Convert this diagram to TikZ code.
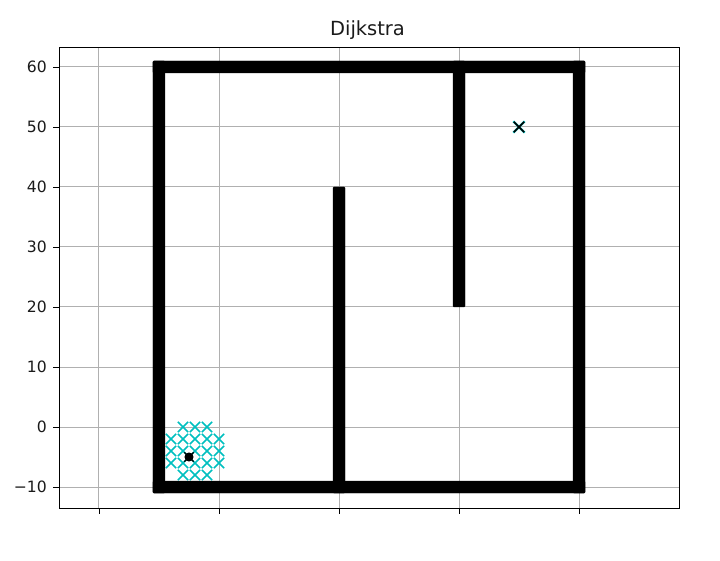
\documentclass[tikz,border=0pt]{standalone}
\usepackage{fontspec}
\setmainfont{DejaVu Sans}
\usetikzlibrary{shapes.misc}
\definecolor{gridc}{HTML}{B0B0B0}
\definecolor{cyanc}{RGB}{0,191,191}
\definecolor{textc}{HTML}{1A1A1A}
\tikzset{
  gridline/.style={draw=gridc, line width=0.75pt},
  spine/.style={draw=black, line width=0.7pt},
  tickmark/.style={draw=black, line width=0.7pt},
  ticklabel/.style={font=\fontsize{11.7}{14}\selectfont, text=textc, anchor=east, inner sep=0pt},
  titlelabel/.style={font=\fontsize{14.6}{17}\selectfont, text=textc, anchor=base, inner sep=0pt},
  wall/.style={fill=black, draw=black, line width=0.3pt, rounded corners=0.6pt},
  closedmark/.style={cross out, draw=cyanc, line width=1.3pt, minimum size=6.4pt, inner sep=0pt},
  goalmark/.style={cross out, draw=black, line width=1.2pt, minimum size=6.6pt, inner sep=0pt},
  startdot/.style={circle, fill=black, minimum size=6.8pt, inner sep=0pt},
}
\begin{document}
\begin{tikzpicture}[x=4.5pt,y=4.5pt]
\useasboundingbox (-36.5,-22.1667) rectangle (83.5,71.1667);
% axes frame corners
\coordinate (fsw) at (-26.667,-13.5);
\coordinate (fne) at (76.667,63.333);
% grid
\foreach \gx in {-20,0,20,40,60} {
  \draw[gridline] (\gx,-13.5) -- (\gx,63.333);
  \draw[tickmark] (\gx,-13.5) -- (\gx,-14.5);
}
\foreach \gy/\lab in {-10/{−10},0/0,10/10,20/20,30/30,40/40,50/50,60/60} {
  \draw[gridline] (-26.667,\gy) -- (76.667,\gy);
  \draw[tickmark] (-26.667,\gy) -- (-27.667,\gy);
  \node[ticklabel] (ylab\gy) at (-28.67,\gy) {\lab};
}
% closed set marks
\foreach \mx/\my in {-6/0,-4/0,-2/0,
  -8/-2,-6/-2,-4/-2,-2/-2,0/-2,
  -8/-4,-6/-4,-4/-4,-2/-4,0/-4,
  -8/-6,-6/-6,-4/-6,-2/-6,0/-6,
  -6/-8,-4/-8,-2/-8} {
  \node[closedmark] (c\mx\my) at (\mx,\my) {};
}
% walls
\fill[wall] (-11,59) rectangle (61,61);
\fill[wall] (-11,-11) rectangle (-9,61);
\fill[wall] (-11,-11) rectangle (61,-9);
\fill[wall] (59,-11) rectangle (61,61);
\fill[wall] (19,-11) rectangle (21,40);
\fill[wall] (39,20) rectangle (41,61);
% start and goal
\node[startdot] (start) at (-5,-5) {};
\node[cross out, draw=black, line width=1pt, minimum size=6pt, inner sep=0pt] (startx) at (-5,-5) {};
\node[cross out, draw=cyanc, line width=1.7pt, minimum size=6.8pt, inner sep=0pt] (goalc) at (50,50) {};
\node[goalmark] (goal) at (50,50) {};
% spines
\draw[spine] (fsw) rectangle (fne);
% title
\node[titlelabel] (title) at (24.75,65.33) {Dijkstra};
\end{tikzpicture}
\end{document}
